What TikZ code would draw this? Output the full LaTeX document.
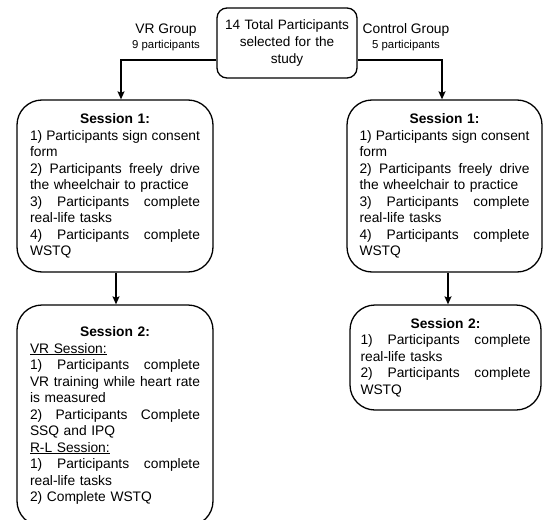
\documentclass[tikz,border=0pt]{standalone}
\usepackage{fontspec}
\setmainfont{Liberation Sans}
\usetikzlibrary{arrows.meta}
\newcommand{\jl}[1]{\leavevmode\hbox to \hsize{\spaceskip=.278em plus 1fil\relax #1}}
\newcommand{\ttl}[1]{\leavevmode\hbox to \hsize{\hfil\textbf{#1}\hfil}}
\newcommand{\bodyfont}{\fontsize{13.8}{16.5}\selectfont}
\newcommand{\smallfontx}{\fontsize{11.4}{13}\selectfont}
\tikzset{
  sbox/.style={draw, line width=1.3pt, rounded corners=25pt, text width=170pt,
    align=left, inner sep=0pt, font=\bodyfont},
  topbox/.style={draw, line width=1.3pt, rounded corners=10pt, text width=134pt,
    align=center, inner sep=0pt, minimum width=140pt, minimum height=70pt,
    font=\fontsize{13.6}{17}\selectfont},
  lbl/.style={inner sep=0pt, font=\bodyfont},
  sublbl/.style={inner sep=0pt, font=\smallfontx},
  arr/.style={-{Stealth[length=8pt,width=7pt,inset=1.5pt]}, line width=1.3pt}
}
\begin{document}
\begin{tikzpicture}[x=1pt,y=-1pt]
\useasboundingbox (0,0) rectangle (543,519);

\node[topbox] (top) at (287,43) {14 Total Participants\\selected for the\\study};

\node[lbl] (vrg) at (166,30) {VR Group};
\node[sublbl] (vrn) at (166,46) {9 participants};
\node[lbl] (ctg) at (406,30) {Control Group};
\node[sublbl] (ctn) at (406,46) {5 participants};

\node[sbox, minimum width=196pt, minimum height=172pt] (s1l) at (115,186) {%
\ttl{Session 1:}\\
\jl{1) Participants sign consent}\\
form\\
\jl{2) Participants freely drive}\\
the wheelchair to practice\\
\jl{3) Participants complete}\\
real-life tasks\\
\jl{4) Participants complete}\\
WSTQ};

\node[sbox, minimum width=195pt, minimum height=172pt] (s1r) at (444.5,186) {%
\ttl{Session 1:}\\
\jl{1) Participants sign consent}\\
form\\
\jl{2) Participants freely drive}\\
the wheelchair to practice\\
\jl{3) Participants complete}\\
real-life tasks\\
\jl{4) Participants complete}\\
WSTQ};

\node[sbox, minimum width=196pt, minimum height=221pt] (s2l) at (115,415.5) {%
\ttl{Session 2:}\\
\underline{VR Session:}\\
\jl{1) Participants complete}\\
\jl{VR training while heart rate}\\
is measured\\
\jl{2) Participants Complete}\\
SSQ and IPQ\\
\underline{R-L Session:}\\
\jl{1) Participants complete}\\
real-life tasks\\
2) Complete WSTQ};

\node[sbox, minimum width=191pt, minimum height=105pt] (s2r) at (445.5,357.5) {%
\ttl{Session 2:}\\
\jl{1) Participants complete}\\
real-life tasks\\
\jl{2) Participants complete}\\
WSTQ};

\draw[arr] (top.west |- 0,60) -| (s1l.north -| 121,0);
\draw[arr] (top.east |- 0,60) -| (s1r.north -| 442,0);
\draw[arr] (s1l.south -| 116,0) -- (s2l.north -| 116,0);
\draw[arr] (s1r.south -| 448,0) -- (s2r.north -| 448,0);
\end{tikzpicture}
\end{document}
